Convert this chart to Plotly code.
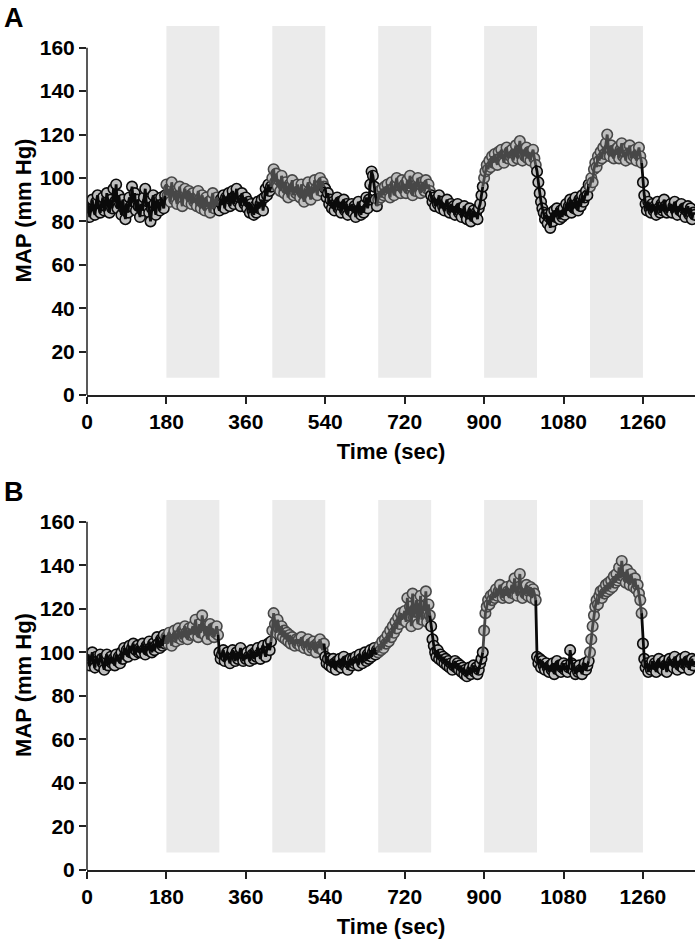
import plotly.graph_objects as go

# Sampling of the MAP traces (one value every 3 s)
SAMPLE_INTERVAL_S = 3

# Stimulation periods (grey bands)
STIM_STARTS = [180, 420, 660, 900, 1140]
STIM_LENGTH_S = 120

X_TICKS = [0, 180, 360, 540, 720, 900, 1080, 1260]
Y_TICKS = [0, 20, 40, 60, 80, 100, 120, 140, 160]

# Panel A - MAP (mm Hg), one row = 60 s
MAP_A = [
    84, 88, 82, 86, 90, 85, 83, 89, 92, 86, 84, 88, 91, 85, 87, 93, 88, 84, 90, 86,
    95, 89, 97, 86, 92, 88, 83, 90, 86, 81, 88, 84, 91, 87, 96, 89, 93, 85, 90, 87,
    82, 88, 85, 91, 95, 87, 89, 84, 80, 86, 92, 88, 83, 90, 87, 85, 91, 88, 86, 92,
    97, 92, 95, 89, 98, 93, 90, 94, 88, 92, 96, 90, 87, 93, 95, 91, 89, 94, 92, 88,
    93, 89, 91, 87, 94, 90, 86, 92, 88, 85, 91, 87, 89, 84, 90, 93, 86, 88, 91, 87,
    85, 90, 88, 92, 86, 91, 89, 93, 87, 90, 94, 88, 92, 95, 89, 91, 87, 93, 90, 88,
    91, 86, 89, 84, 88, 85, 83, 87, 84, 89, 86, 88, 90, 85, 91, 95, 92, 97, 94, 96,
    100, 104, 98, 102, 96, 99, 94, 101, 97, 93, 98, 95, 91, 97, 94, 99, 92, 96, 93, 97,
    94, 91, 97, 93, 89, 95, 92, 98, 94, 90, 96, 93, 99, 95, 92, 97, 100, 94, 98, 96,
    95, 91, 93, 88, 90, 86, 89, 85, 88, 91, 86, 89, 84, 87, 90, 85, 88, 83, 87, 85,
    88, 84, 87, 82, 86, 89, 85, 83, 87, 84, 88, 91, 86, 90, 97, 103, 101, 96, 90, 87,
    90, 94, 91, 95, 92, 96, 93, 97, 94, 91, 98, 95, 92, 97, 100, 94, 96, 93, 99, 95,
    97, 93, 99, 95, 101, 96, 92, 98, 94, 97, 100, 95, 93, 98, 96, 94, 99, 95, 97, 94,
    92, 89, 91, 87, 90, 88, 92, 86, 89, 87, 85, 88, 90, 86, 84, 88, 85, 87, 83, 86,
    88, 84, 86, 82, 85, 87, 83, 81, 84, 86, 80, 83, 85, 82, 84, 81, 86, 88, 92, 96,
    100, 103, 106, 104, 108, 105, 110, 107, 111, 108, 106, 112, 109, 113, 110, 107, 111, 114, 109, 112,
    110, 113, 108, 111, 115, 109, 112, 117, 111, 108, 113, 110, 114, 109, 112, 108, 111, 113, 109, 106,
    103, 98, 93, 89, 86, 84, 81, 83, 79, 82, 77, 84, 80, 85, 82, 86, 83, 81, 85, 82,
    86, 83, 88, 85, 87, 90, 84, 89, 86, 91, 88, 85, 90, 87, 92, 89, 91, 94, 92, 97,
    96, 100, 98, 104, 107, 105, 110, 108, 112, 109, 114, 111, 116, 120, 113, 110, 115, 112, 109, 113,
    111, 114, 109, 113, 116, 110, 112, 108, 114, 111, 115, 109, 112, 110, 113, 108, 111, 114, 110, 107,
    98, 92, 88, 85, 89, 86, 84, 88, 85, 87, 83, 89, 86, 84, 88, 85, 90, 87, 84, 86,
    85, 88, 84, 87, 89, 85, 83, 87, 85, 88, 84, 86, 82, 85, 87, 83, 86, 81, 84, 83,
]

# Panel B - MAP (mm Hg), one row = 60 s
MAP_B = [
    96, 99, 94, 97, 100, 95, 93, 98, 96, 94, 99, 97, 95, 92, 97, 99, 94, 96, 98, 95,
    97, 94, 99, 96, 98, 95, 100, 97, 102, 99, 101, 98, 103, 100, 102, 104, 99, 101, 103, 100,
    102, 100, 104, 101, 99, 103, 101, 105, 102, 100, 104, 101, 103, 107, 104, 102, 106, 103, 108, 104,
    107, 104, 109, 106, 103, 108, 110, 105, 107, 111, 108, 106, 110, 107, 112, 109, 106, 111, 108, 110,
    112, 108, 115, 110, 107, 113, 109, 117, 111, 108, 112, 106, 110, 113, 108, 111, 107, 109, 112, 108,
    100, 97, 99, 101, 96, 98, 100, 97, 95, 99, 101, 98, 96, 100, 97, 99, 102, 98, 96, 99,
    97, 100, 98, 96, 101, 99, 97, 100, 98, 102, 99, 97, 101, 103, 100, 98, 102, 104, 101, 105,
    110, 118, 113, 109, 115, 111, 108, 112, 107, 110, 106, 109, 105, 108, 104, 107, 105, 103, 106, 104,
    106, 103, 107, 104, 102, 105, 103, 106, 101, 104, 102, 105, 103, 100, 104, 102, 106, 103, 101, 104,
    98, 95, 97, 94, 96, 93, 97, 95, 92, 96, 94, 97, 93, 95, 98, 94, 96, 92, 95, 97,
    94, 97, 95, 98, 96, 94, 99, 97, 95, 98, 100, 96, 99, 97, 101, 98, 100, 102, 99, 101,
    100, 103, 101, 105, 102, 106, 104, 108, 105, 110, 107, 112, 109, 114, 111, 116, 113, 118, 115, 117,
    119, 114, 125, 117, 121, 112, 127, 116, 120, 124, 113, 118, 126, 115, 121, 119, 128, 114, 122, 117,
    112, 106, 103, 100, 98, 101, 97, 99, 96, 98, 95, 97, 94, 96, 93, 95, 92, 94, 96, 93,
    95, 92, 94, 91, 93, 90, 92, 89, 91, 93, 90, 92, 94, 91, 93, 90, 92, 95, 97, 100,
    110, 118, 121, 124, 122, 126, 124, 127, 125, 129, 126, 128, 131, 127, 125, 129, 126, 130, 128, 125,
    128, 131, 127, 134, 129, 126, 130, 136, 128, 125, 129, 127, 131, 126, 128, 130, 125, 129, 127, 124,
    98, 95, 97, 93, 96, 94, 92, 95, 93, 91, 94, 92, 95, 90, 93, 96, 92, 94, 91, 93,
    95, 92, 94, 91, 93, 101, 95, 92, 94, 90, 93, 91, 94, 92, 90, 93, 95, 92, 94, 96,
    100, 106, 112, 117, 121, 124, 122, 126, 128, 125, 129, 127, 131, 128, 132, 129, 133, 130, 135, 132,
    136, 133, 139, 134, 142, 135, 137, 132, 138, 134, 131, 136, 133, 130, 134, 129, 131, 127, 124, 118,
    104, 97, 93, 95, 91, 94, 92, 96, 93, 95, 91, 94, 97, 93, 95, 92, 96, 94, 91, 95,
    97, 94, 96, 93, 98, 95, 92, 96, 94, 97, 93, 95, 98, 94, 96, 92, 95, 97, 94, 96,
]

FONT = 'Liberation Sans, Arial, sans-serif'
REST_COLOR = '#0a0a0a'
STIM_COLOR = '#474747'
MARKER_FILL = '#bebebe'
BAND_COLOR = '#ebebeb'


def in_stim(t):
    return any(s <= t < s + STIM_LENGTH_S for s in STIM_STARTS)


def add_panel(fig, values, xaxis, yaxis):
    """Add the MAP trace of one panel, split in rest / stimulation chunks."""
    times = [i * SAMPLE_INTERVAL_S for i in range(len(values))]

    # group consecutive samples by condition
    groups = []
    for t, v in zip(times, values):
        stim = in_stim(t)
        if groups and groups[-1][0] == stim:
            groups[-1][1].append(t)
            groups[-1][2].append(v)
        else:
            groups.append([stim, [t], [v]])

    # markers first ...
    for stim, xs, ys in groups:
        color = STIM_COLOR if stim else REST_COLOR
        fig.add_trace(go.Scatter(
            x=xs, y=ys, mode='markers',
            marker=dict(size=10.5, color=MARKER_FILL,
                        line=dict(color=color, width=1.6)),
            xaxis=xaxis, yaxis=yaxis,
        ))

    # ... then the connecting line on top (includes last point of previous chunk)
    prev = None
    for stim, xs, ys in groups:
        color = STIM_COLOR if stim else REST_COLOR
        line_x = ([prev[0]] if prev else []) + xs
        line_y = ([prev[1]] if prev else []) + ys
        fig.add_trace(go.Scatter(
            x=line_x, y=line_y, mode='lines',
            line=dict(color=color, width=2.8),
            xaxis=xaxis, yaxis=yaxis, hoverinfo='skip',
        ))
        prev = (xs[-1], ys[-1])

    # grey stimulation bands
    xref = 'x' if xaxis == 'x' else 'x2'
    yref = 'y' if yaxis == 'y' else 'y2'
    for s in STIM_STARTS:
        fig.add_shape(type='rect', xref=xref, yref=yref,
                      x0=s, x1=s + STIM_LENGTH_S, y0=8, y1=170,
                      fillcolor=BAND_COLOR, line=dict(width=0), layer='below')

    # y axis line only up to the last tick
    fig.add_shape(type='line', xref=f'{xref} domain', yref=yref,
                  x0=0, x1=0, y0=0, y1=Y_TICKS[-1],
                  line=dict(color='#222222', width=1.5))


fig = go.Figure()
add_panel(fig, MAP_A, 'x', 'y')
add_panel(fig, MAP_B, 'x2', 'y2')

xaxis_style = dict(
    range=[0, 1378],
    tickvals=X_TICKS,
    ticks='outside', ticklen=7, tickwidth=1.5, tickcolor='#222222',
    showline=True, linecolor='#222222', linewidth=1.5,
    showgrid=False, zeroline=False, automargin=False,
    tickfont=dict(size=21, family=FONT, color='black', weight='bold'),
    title=dict(text='Time (sec)', standoff=12,
               font=dict(size=22, family=FONT, color='black', weight='bold')),
)
yaxis_style = dict(
    range=[0, 170],
    tickvals=Y_TICKS,
    ticks='outside', ticklen=7, tickwidth=1.5, tickcolor='#222222',
    showline=False, showgrid=False, zeroline=False, automargin=False,
    tickfont=dict(size=21, family=FONT, color='black', weight='bold'),
    title=dict(text='MAP (mm Hg)', standoff=2,
               font=dict(size=22, family=FONT, color='black', weight='bold')),
)

fig.update_layout(
    width=700,
    height=942,
    margin=dict(l=87, r=5, t=26, b=72),
    paper_bgcolor='white',
    plot_bgcolor='white',
    showlegend=False,
    xaxis=dict(xaxis_style, anchor='y'),
    yaxis=dict(yaxis_style, anchor='x', domain=[0.5628, 1.0]),
    xaxis2=dict(xaxis_style, anchor='y2'),
    yaxis2=dict(yaxis_style, anchor='x2', domain=[0.0, 0.4384]),
)

# panel letters
for label, ypos in [('A', 1.0095), ('B', 0.448)]:
    fig.add_annotation(
        text=label, xref='paper', yref='paper',
        x=-0.14, y=ypos, xanchor='left', yanchor='middle',
        showarrow=False,
        font=dict(size=27, family=FONT, color='black', weight='bold'),
    )

# drop the default 8px page margin so the figure sits at the window origin
fig.write_html('out.html', config={'displayModeBar': False},
               post_script="document.body.style.margin = '0';")
